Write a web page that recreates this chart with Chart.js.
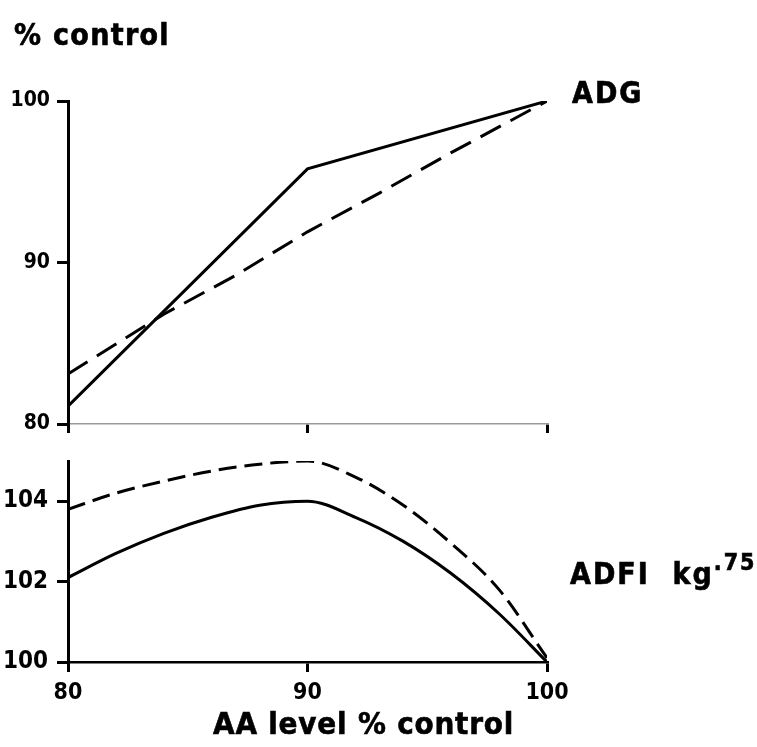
<!DOCTYPE html>
<html>
<head>
<meta charset="utf-8">
<script src="https://cdn.jsdelivr.net/npm/chart.js@4"></script>
<style>
  html, body { margin: 0; padding: 0; background: #fff; }
  #wrap { position: relative; width: 757px; height: 747px; overflow: hidden; }
  canvas { position: absolute; left: 0; }
  #adg { top: 0; }
  #adfi { top: 435px; }
  .lbl {
    position: absolute;
    font-family: "Liberation Sans Narrow", "DejaVu Sans Condensed", sans-serif;
    font-weight: bold;
    color: #000;
    white-space: nowrap;
    line-height: 1;
    -webkit-text-stroke: 0.6px #000;
  }
</style>
</head>
<body>
<div id="wrap">
  <canvas id="adg" width="757" height="445"></canvas>
  <canvas id="adfi" width="757" height="312"></canvas>
  <div class="lbl" style="left:14px; top:20px; font-size:30px; letter-spacing:1.3px;">% control</div>
  <div class="lbl" style="left:572px; top:78px; font-size:30px; letter-spacing:2px;">ADG</div>
  <div class="lbl" style="left:570px; top:551px; font-size:30px; letter-spacing:2px;">ADFI&nbsp;&nbsp;kg<sup style="font-size:23px; vertical-align:14px;">.75</sup></div>
  <div class="lbl" style="left:213px; top:708px; font-size:31px; letter-spacing:0.8px;">AA level % control</div>
</div>
<script>
// AA level, % of control
const xTicks = [80, 90, 100];

// ADG, % control
const adgTicks = [80, 90, 100];
const adgSolidX = [80, 90, 100];
const adgSolid = [81.1, 95.8, 100];
const adgDashedX = [80, 84, 87, 90, 93, 96, 100];
const adgDashed = [83.1, 86.8, 89.2, 91.9, 94.3, 96.8, 100];

// ADFI kg^.75, % control
const adfiTicks = [100, 102, 104];
const adfiX = [80, 82, 84, 86, 88, 90, 92, 94, 96, 98, 100];
const adfiSolid = [102.1, 102.7, 103.2, 103.6, 103.9, 104.0, 103.6, 103.0, 102.2, 101.2, 100.0];
const adfiDashed = [103.8, 104.2, 104.5, 104.75, 104.92, 105.0, 104.6, 103.9, 102.95, 101.8, 100.1];

const FONT = "'Liberation Sans Narrow', 'DejaVu Sans Condensed', sans-serif";

const pts = (xs, ys) => xs.map((x, i) => ({ x: x, y: ys[i] }));
const fixTicks = (values) => (scale) => { scale.ticks = values.map(v => ({ value: v })); };

function lineSet(data, dash, tension) {
    return {
        data: data,
        borderColor: '#000',
        borderWidth: 3,
        borderDash: dash,
        borderCapStyle: 'butt',
        pointRadius: 0,
        tension: tension,
        cubicInterpolationMode: tension ? 'monotone' : 'default',
        fill: false
    };
}

function yAxis(min, max, ticks, fontSize, pad) {
    return {
        type: 'linear',
        min: min,
        max: max,
        afterBuildTicks: fixTicks(ticks),
        afterFit: (s) => { s.width = 68; },
        ticks: { color: '#000', padding: pad, font: { family: FONT, size: fontSize, weight: 'bold' } },
        grid: { drawOnChartArea: false, drawTicks: true, tickLength: 11, lineWidth: 3, color: '#000' },
        border: { display: true, color: '#000', width: 3 }
    };
}

function baseOptions(padding, scales) {
    return {
        responsive: false,
        animation: false,
        layout: { padding: padding },
        plugins: { legend: { display: false }, tooltip: { enabled: false } },
        scales: scales
    };
}

// upper panel: ADG, straight segments
new Chart(document.getElementById('adg'), {
    type: 'line',
    data: {
        datasets: [
            lineSet(pts(adgSolidX, adgSolid), [], 0),
            lineSet(pts(adgDashedX, adgDashed), [23, 11], 0)
        ]
    },
    options: baseOptions({ top: 101, left: 0, right: 210, bottom: 1 }, {
        x: {
            type: 'linear',
            min: 80,
            max: 100,
            afterBuildTicks: fixTicks(xTicks),
            afterFit: (s) => { s.height = 20; },
            ticks: { display: false },
            grid: { drawOnChartArea: false, drawTicks: true, tickLength: 9, lineWidth: 3, color: '#000' },
            border: { display: true, color: '#9a9a9a', width: 1.5 }
        },
        y: yAxis(80, 100, adgTicks, 21, 7)
    })
});

// lower panel: ADFI, smoothed curves
new Chart(document.getElementById('adfi'), {
    type: 'line',
    data: {
        datasets: [
            lineSet(pts(adfiX, adfiSolid), [], 0.4),
            lineSet(pts(adfiX, adfiDashed), [18, 8], 0.4)
        ]
    },
    options: baseOptions({ top: 26, left: 0, right: 210, bottom: 35 }, {
        x: {
            type: 'linear',
            min: 80,
            max: 100,
            afterBuildTicks: fixTicks(xTicks),
            afterFit: (s) => { s.height = 50; },
            ticks: { color: '#000', padding: 7, font: { family: FONT, size: 23, weight: 'bold' } },
            grid: { drawOnChartArea: false, drawTicks: true, tickLength: 10, lineWidth: 3, color: '#000' },
            border: { display: true, color: '#000', width: 2.5 }
        },
        y: yAxis(100, 105, adfiTicks, 24, 9)
    })
});
</script>
</body>
</html>
